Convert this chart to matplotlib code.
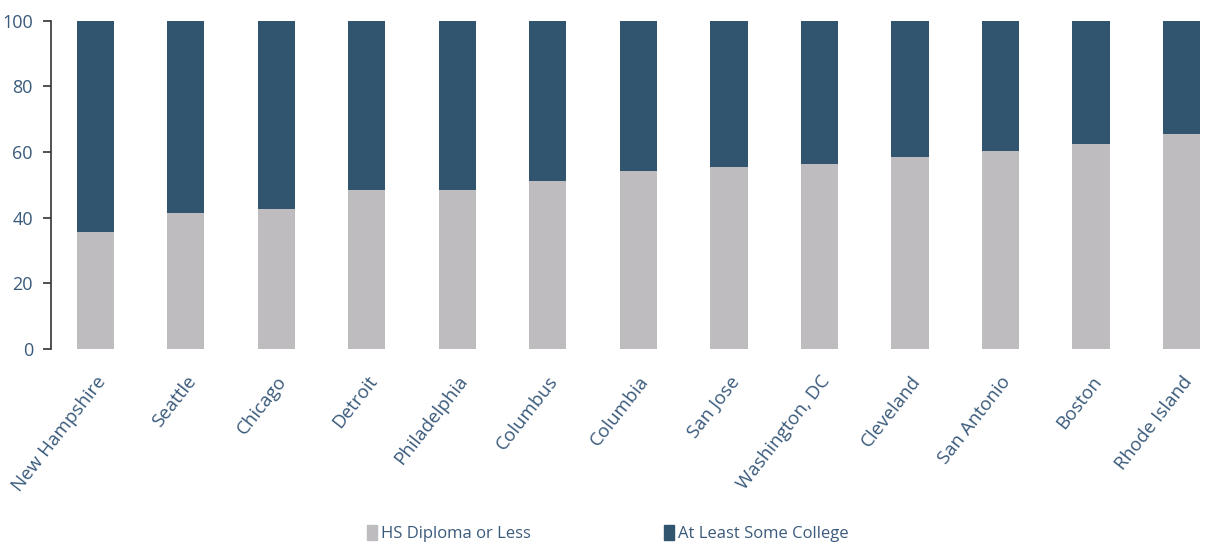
import numpy as np
import matplotlib.pyplot as plt
from matplotlib.patches import Patch

# Share of adults by educational attainment (%)
places = ['New Hampshire', 'Seattle', 'Chicago', 'Detroit', 'Philadelphia',
          'Columbus', 'Columbia', 'San Jose', 'Washington, DC', 'Cleveland',
          'San Antonio', 'Boston', 'Rhode Island']
hs_or_less = [35.5, 41.4, 42.6, 48.4, 48.4, 51.1, 54.2, 55.4, 56.3, 58.4,
              60.4, 62.5, 65.5]
some_college = [100 - v for v in hs_or_less]

gray = '#bebcbf'
navy = '#31546f'
text_col = '#3a5a7b'

plt.rcParams['font.family'] = ['Open Sans', 'DejaVu Sans']

fig = plt.figure(figsize=(12.06, 5.46), dpi=100)
ax = fig.add_axes([51 / 1206, 1 - 349 / 546, 1 - 51 / 1206, (349 - 20.5) / 546])

x = np.arange(len(places))
ax.bar(x, hs_or_less, width=0.41, color=gray)
ax.bar(x, some_college, bottom=hs_or_less, width=0.41, color=navy)

ax.set_xlim(-0.49, len(places) - 1 + 0.27)
ax.set_ylim(0, 100)
ax.set_yticks(range(0, 101, 20))
ax.tick_params(axis='y', colors='#333333', labelcolor=text_col, labelsize=13,
               length=6, width=1.2, pad=7)
ax.set_xticks(x)
ax.set_xticklabels(places, rotation=52, ha='right', rotation_mode='anchor',
                   fontsize=13.5, color=text_col)
ax.tick_params(axis='x', length=0, pad=17)

for side in ['top', 'right', 'bottom']:
    ax.spines[side].set_visible(False)
ax.spines['left'].set_color('#333333')
ax.spines['left'].set_linewidth(1.2)

handles = [Patch(color=gray, label='HS Diploma or Less'),
           Patch(color=navy, label='At Least Some College')]
fig.legend(handles=handles, loc='lower center', bbox_to_anchor=(0.504, -0.02),
           ncol=2, frameon=False, fontsize=12, labelcolor=text_col,
           handlelength=0.6, handleheight=1.0, handletextpad=0.25,
           columnspacing=8.0)

fig.savefig('out.png', dpi=100)
